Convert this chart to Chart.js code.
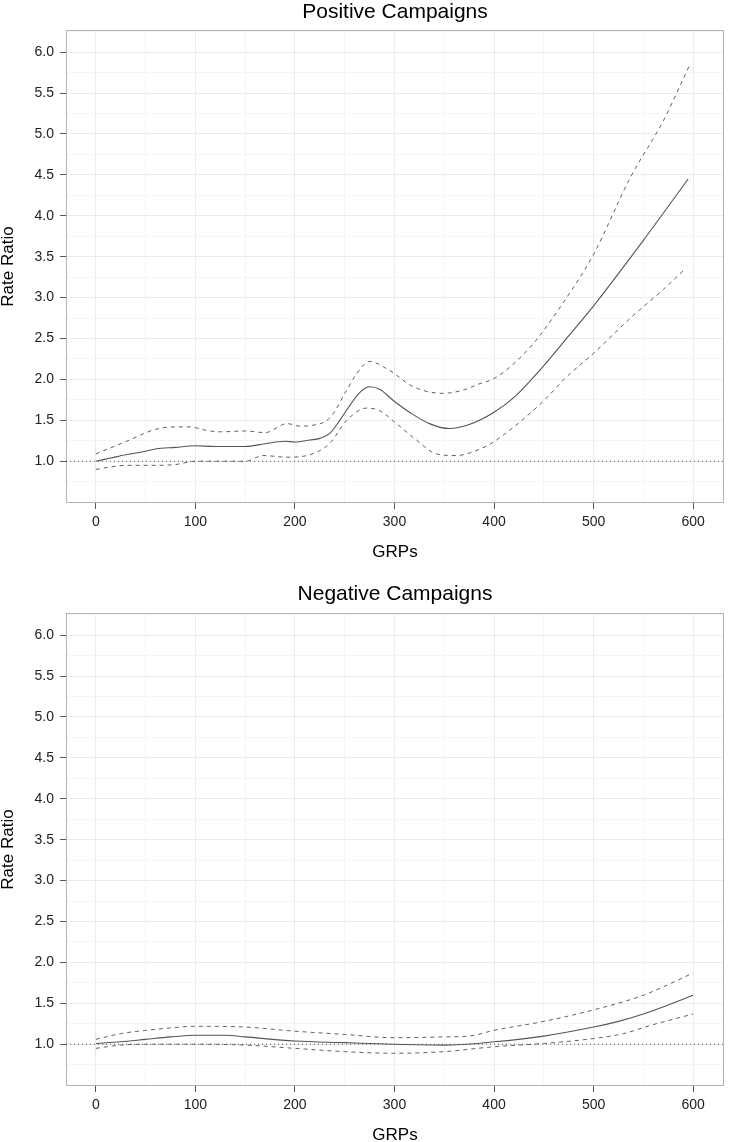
<!DOCTYPE html>
<html>
<head>
<meta charset="utf-8">
<script src="https://cdn.jsdelivr.net/npm/chart.js@4.4.1/dist/chart.umd.min.js"></script>
<style>
html, body { margin: 0; padding: 0; background: #ffffff; overflow: hidden; width: 730px; height: 1142px; }
#c1 { position: absolute; left: 0; top: 0; }
#c2 { position: absolute; left: 0; top: 566px; }
</style>
</head>
<body>
<canvas id="c1" width="730" height="570"></canvas>
<canvas id="c2" width="730" height="580"></canvas>
<script>
// ---- Data ----
const titlePos = "Positive Campaigns";
const titleNeg = "Negative Campaigns";
const xTitle = "GRPs";
const yTitle = "Rate Ratio";

const xMajorTicks = [0, 100, 200, 300, 400, 500, 600];
const xTickLabels = ["0", "100", "200", "300", "400", "500", "600"];
const xMinorTicks = [50, 150, 250, 350, 450, 550];
const yMajorTicks = [1.0, 1.5, 2.0, 2.5, 3.0, 3.5, 4.0, 4.5, 5.0, 5.5, 6.0];
const yTickLabels = ["1.0", "1.5", "2.0", "2.5", "3.0", "3.5", "4.0", "4.5", "5.0", "5.5", "6.0"];
const yMinorTicks = [0.75, 1.25, 1.75, 2.25, 2.75, 3.25, 3.75, 4.25, 4.75, 5.25, 5.75, 6.25];
const X_MIN = -30, X_MAX = 631;
const Y_MIN = 0.49, Y_MAX = 6.27;
const refValue = 1.0;

// Positive campaigns
const posFitX = [0, 15, 30, 45, 60, 80, 100, 120, 150, 170, 190, 200, 215, 225, 235, 245, 255, 265, 275, 285, 300, 315, 335, 355, 375, 400, 420, 450, 470, 500, 550, 595];
const posFitY = [1.00, 1.04, 1.08, 1.11, 1.15, 1.17, 1.19, 1.18, 1.18, 1.215, 1.245, 1.235, 1.26, 1.28, 1.34, 1.50, 1.68, 1.84, 1.91, 1.88, 1.73, 1.60, 1.46, 1.40, 1.45, 1.60, 1.78, 2.17, 2.46, 2.90, 3.70, 4.45];
const posUpperX = [0, 30, 60, 80, 95, 110, 125, 150, 170, 192, 205, 218, 235, 252, 262, 275, 295, 319, 349, 369, 386, 400, 436, 469, 500, 537, 570, 596];
const posUpperY = [1.09, 1.24, 1.39, 1.42, 1.42, 1.38, 1.36, 1.37, 1.35, 1.46, 1.43, 1.44, 1.53, 1.87, 2.07, 2.22, 2.11, 1.91, 1.83, 1.87, 1.95, 2.01, 2.39, 2.93, 3.53, 4.47, 5.16, 5.83];
const posLowerX = [0, 15, 30, 60, 80, 100, 120, 150, 168, 192, 212, 235, 252, 272, 285, 302, 322, 342, 362, 386, 400, 450, 471, 500, 537, 570, 592];
const posLowerY = [0.90, 0.93, 0.95, 0.95, 0.96, 1.00, 1.00, 1.00, 1.07, 1.05, 1.07, 1.22, 1.50, 1.65, 1.62, 1.46, 1.26, 1.09, 1.07, 1.15, 1.24, 1.74, 2.01, 2.32, 2.75, 3.10, 3.35];

// Negative campaigns
const negFitX = [0, 25, 50, 75, 100, 130, 150, 200, 250, 300, 350, 400, 450, 500, 525, 550, 575, 600];
const negFitY = [1.01, 1.03, 1.06, 1.09, 1.11, 1.11, 1.09, 1.04, 1.02, 1.00, 0.99, 1.03, 1.10, 1.21, 1.28, 1.37, 1.48, 1.60];
const negUpperX = [0, 25, 50, 75, 100, 150, 200, 250, 300, 350, 375, 400, 450, 500, 550, 600];
const negUpperY = [1.06, 1.13, 1.17, 1.20, 1.22, 1.21, 1.16, 1.12, 1.08, 1.09, 1.10, 1.17, 1.28, 1.42, 1.60, 1.87];
const negLowerX = [0, 25, 50, 100, 150, 200, 250, 300, 350, 400, 450, 500, 530, 557, 600];
const negLowerY = [0.95, 0.99, 1.00, 1.00, 0.99, 0.95, 0.91, 0.89, 0.91, 0.97, 1.01, 1.07, 1.13, 1.23, 1.37];

// ---- Helpers ----
const FONT = "'Liberation Sans', Arial, sans-serif";
function pts(xs, ys) { return xs.map((x, i) => ({ x: x, y: ys[i] })); }
function isMajorX(v) { return xMajorTicks.some(t => Math.abs(t - v) < 1e-6); }
function isMajorY(v) { return yMajorTicks.some(t => Math.abs(t - v) < 1e-6); }

const framePlugin = {
  id: 'frame',
  beforeDatasetsDraw(chart) {
    const a = chart.chartArea, ctx = chart.ctx;
    ctx.save();
    ctx.strokeStyle = '#b4b4b4';
    ctx.lineWidth = 1;
    ctx.strokeRect(Math.round(a.left) + 0.5, Math.round(a.top) + 0.5, Math.round(a.right - a.left) - 1, Math.round(a.bottom - a.top) - 1);
    ctx.restore();
  }
};

function makeChart(canvasId, title, fit, upper, lower, opts) {
  const lineCol = '#555555';
  const dashCol = '#606060';
  return new Chart(document.getElementById(canvasId), {
    type: 'line',
    data: {
      datasets: [
        { data: [{ x: X_MIN, y: refValue }, { x: X_MAX, y: refValue }], borderColor: '#555555', borderWidth: 1, borderDash: [1, 3], pointRadius: 0, tension: 0 },
        { data: upper, borderColor: dashCol, borderWidth: 1, borderDash: [4, 4], pointRadius: 0, cubicInterpolationMode: 'monotone' },
        { data: lower, borderColor: dashCol, borderWidth: 1, borderDash: [4, 4], pointRadius: 0, cubicInterpolationMode: 'monotone' },
        { data: fit, borderColor: lineCol, borderWidth: 1.1, pointRadius: 0, cubicInterpolationMode: 'monotone' }
      ]
    },
    options: {
      responsive: false,
      animation: false,
      devicePixelRatio: 1,
      events: [],
      layout: { padding: { left: 0, right: 6, top: 0, bottom: 0 } },
      plugins: {
        legend: { display: false },
        tooltip: { enabled: false },
        title: {
          display: true, text: title, fullSize: false, color: '#000000',
          font: { family: FONT, size: 21, weight: 'normal', lineHeight: 1.05 },
          padding: opts.titlePad
        }
      },
      scales: {
        x: {
          type: 'linear', min: X_MIN, max: X_MAX,
          afterBuildTicks: s => { s.ticks = xMajorTicks.concat(xMinorTicks).sort((a, b) => a - b).map(v => ({ value: v })); },
          afterFit: s => { s.height = opts.xHeight; },
          ticks: {
            autoSkip: false, maxRotation: 0, padding: 5, color: '#222222',
            font: { family: FONT, size: 14 },
            callback: v => { const i = xMajorTicks.findIndex(t => Math.abs(t - v) < 1e-6); return i >= 0 ? xTickLabels[i] : ''; }
          },
          grid: {
            color: c => (c.tick && isMajorX(c.tick.value)) ? '#ebebeb' : '#f5f5f5',
            tickColor: c => (c.tick && isMajorX(c.tick.value)) ? '#555555' : 'rgba(0,0,0,0)',
            tickLength: 6, lineWidth: 1
          },
          border: { display: false },
          title: { display: true, text: xTitle, color: '#000000', font: { family: FONT, size: 17, lineHeight: 1 }, padding: { top: 0, bottom: opts.xTitlePadB } }
        },
        y: {
          type: 'linear', min: Y_MIN, max: Y_MAX,
          afterBuildTicks: s => { s.ticks = yMajorTicks.concat(yMinorTicks).sort((a, b) => a - b).map(v => ({ value: v })); },
          afterFit: s => { s.width = 66; },
          ticks: {
            autoSkip: false, padding: 6, color: '#222222',
            font: { family: FONT, size: 14 },
            callback: v => { const i = yMajorTicks.findIndex(t => Math.abs(t - v) < 1e-6); return i >= 0 ? yTickLabels[i] : ''; }
          },
          grid: {
            color: c => (c.tick && isMajorY(c.tick.value)) ? '#ebebeb' : '#f5f5f5',
            tickColor: c => (c.tick && isMajorY(c.tick.value)) ? '#555555' : 'rgba(0,0,0,0)',
            tickLength: 6, lineWidth: 1
          },
          border: { display: false },
          title: { display: true, text: yTitle, color: '#000000', font: { family: FONT, size: 17, lineHeight: 1 }, padding: { top: 0, bottom: 0 } }
        }
      }
    },
    plugins: [framePlugin]
  });
}

makeChart('c1', titlePos, pts(posFitX, posFitY), pts(posUpperX, posUpperY), pts(posLowerX, posLowerY),
  { titlePad: { top: 1, bottom: 7 }, xHeight: 67, xTitlePadB: 9.5 });
makeChart('c2', titleNeg, pts(negFitX, negFitY), pts(negUpperX, negUpperY), pts(negLowerX, negLowerY),
  { titlePad: { top: 17, bottom: 8 }, xHeight: 60, xTitlePadB: 2.5 });
</script>
</body>
</html>
